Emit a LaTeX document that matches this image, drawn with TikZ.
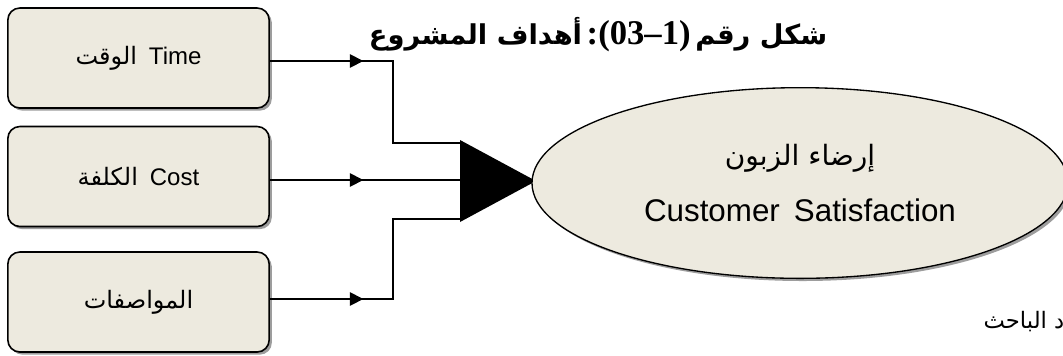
\documentclass[tikz,border=0pt]{standalone}
\usepackage{fontspec}
\setmainfont{Liberation Sans}
\newfontfamily\arabicfont[Script=Arabic]{DejaVu Sans}
\newfontfamily\numfont{Liberation Serif}
\TeXXeTstate=1
\usetikzlibrary{shapes.geometric,shadows,decorations.markings,arrows.meta}

\definecolor{goalfill}{RGB}{237,234,223}
\newcommand{\arlabel}[1]{{\arabicfont\fontsize{18}{21}\selectfont\beginR #1\endR}}

\begin{document}
\begin{tikzpicture}[x=0.75pt,y=-0.75pt,
  goalbox/.style={draw=black, line width=1.2pt, rounded corners=9pt,
    fill=goalfill, minimum width=196pt, minimum height=75pt,
    font=\fontsize{18}{21}\selectfont,
    drop shadow={shadow xshift=2pt, shadow yshift=-2pt, fill=black!55, opacity=.7}},
  link/.style={line width=1.2pt, postaction={decorate},
    decoration={markings,
      mark=at position 70pt with {\arrow{Triangle[length=10pt,width=10pt]}}}}]

\clip (0,0) rectangle (1063,355);

% title, set piece by piece from left to right
\node (title) at (598,35) {\bfseries
  {\arabicfont\fontsize{20.5}{24}\selectfont\beginR أهداف المشروع\endR}\hspace{0.35em}%
  {\numfont\fontsize{26}{28}\selectfont :(03–1)}\hspace{0.35em}%
  {\arabicfont\fontsize{20.5}{24}\selectfont\beginR شكل رقم\endR}};

% the three objectives
\node[goalbox] (time) at (138.5,58) {\arlabel{الوقت}\hspace{0.5em}Time};
\node[goalbox] (cost) at (138.5,176.5) {\arlabel{الكلفة}\hspace{0.5em}Cost};
\node[goalbox] (spec) at (138.5,302) {\arlabel{المواصفات}};

% merging triangle
\path coordinate (tA) at (460,140)
      coordinate (tB) at (460,222)
      coordinate (tC) at (536,181);
\fill (tA) -- (tC) -- (tB) -- cycle;

% turning points and entry points of the connectors
\coordinate (k1) at (393,61);
\coordinate (k3) at (393,299);
\coordinate (e1) at (460,143);
\coordinate (e2) at (460,180);
\coordinate (e3) at (460,219);

\draw[link] (time.east |- k1) -- (k1) |- (e1);
\draw[link] (cost.east |- e2) -- (e2);
\draw[link] (spec.east |- k3) -- (k3) |- (e3);

% goal
\node[ellipse, draw=black, line width=1pt, fill=goalfill,
  minimum width=402pt, minimum height=143pt,
  drop shadow={shadow xshift=2pt, shadow yshift=-2pt, fill=black!55, opacity=.7},
  align=center, font=\fontsize{23.5}{27}\selectfont] (sat) at (800,183)
  {{\arabicfont\fontsize{21}{24}\selectfont\beginR إرضاء الزبون\endR}\\[15pt]
   Customer\hspace{0.45em}Satisfaction};

% source line
\node[anchor=west, font=\fontsize{17}{20}\selectfont] (src) at (979,322)
  {\arabicfont\beginR د الباحث\endR};
\end{tikzpicture}
\end{document}
